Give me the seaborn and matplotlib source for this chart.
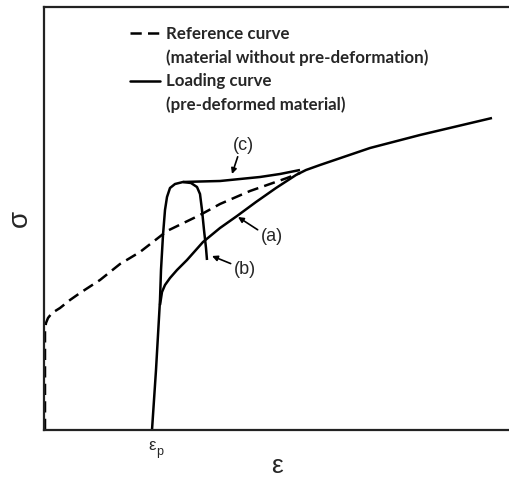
import numpy as np
import pandas as pd
import matplotlib
matplotlib.use("Agg")
import matplotlib.pyplot as plt
import seaborn as sns
from matplotlib.lines import Line2D

# Reference curve (material without pre-deformation)
ref_eps = [1, 1, 2, 4, 8, 16, 26, 36, 56, 76, 96, 114, 123, 156, 176, 206, 226, 243, 256]
ref_sig = [0, 100, 107, 112, 117, 122, 130, 137, 150, 166, 178, 192, 199, 215, 226, 239, 246, 252, 257]

# Loading curve: elastic stem and path (b) with rounded peak
b_eps = [108, 110, 112, 114, 116, 117, 119, 121, 123, 126, 131, 139, 147, 153, 156, 158, 160, 162, 163]
b_sig = [0, 30, 60, 95, 130, 160, 195, 220, 233, 242, 246, 248, 247, 243, 236, 220, 200, 182, 170]

# Path (c): from the peak joining the main curve
c_eps = [139, 156, 176, 196, 216, 236, 256]
c_sig = [248, 248.5, 249, 251, 253, 256, 260]

# Path (a): continuing from the stem up to the end of the curve
a_eps = [116, 118, 121, 126, 133, 143, 159, 176, 193, 212, 232, 252, 262, 276, 326, 376, 448]
a_sig = [125, 138, 145, 152, 160, 170, 188, 202, 214, 228, 242, 255, 260, 265, 282, 295, 312]

eps_p = 108

legend_labels = ["Reference curve", "(material without pre-deformation)",
                 "Loading curve", "(pre-deformed material)"]

sns.set_theme(style="white")
plt.rcParams['font.family'] = ['Liberation Sans', 'DejaVu Sans']

fig = plt.figure(figsize=(5.09, 4.78), dpi=100)
ax = fig.add_axes([44 / 509, 1 - 430 / 478, 465 / 509, 423 / 478])

lw = 1.8
sns.lineplot(x=ref_eps, y=ref_sig, sort=False, estimator=None, ax=ax,
             color="black", lw=lw, linestyle=(0, (4.5, 2.5)))
for xs, ys in [(b_eps, b_sig), (c_eps, c_sig), (a_eps, a_sig)]:
    sns.lineplot(x=xs, y=ys, sort=False, estimator=None, ax=ax,
                 color="black", lw=lw, solid_capstyle="butt")

ax.set_xlim(0, 465)
ax.set_ylim(0, 423)
ax.set_xticks([])
ax.set_yticks([])
for side in ["left", "bottom", "top"]:
    ax.spines[side].set_visible(True)
    ax.spines[side].set_color("#222222")
    ax.spines[side].set_linewidth(1.6)
ax.spines["right"].set_visible(False)

ax.set_xlabel("ε", fontsize=19, labelpad=17)
ax.set_ylabel("σ", fontsize=20, labelpad=8)
ax.text(eps_p, -8, "ε", fontsize=12, ha="center", va="top")
ax.text(eps_p + 8, -16, "p", fontsize=9, ha="center", va="top")

arrow = dict(arrowstyle="-|>", lw=1.2, color="black", mutation_scale=8,
             shrinkA=0, shrinkB=0)
ax.annotate("(c)", xy=(188, 256), xytext=(199, 285), fontsize=13,
            ha="center", va="center", arrowprops=dict(arrow, relpos=(0.3, 0.0)))
ax.annotate("(a)", xy=(194, 213), xytext=(228, 193), fontsize=13,
            ha="center", va="center", arrowprops=dict(arrow, relpos=(0.0, 0.8)))
ax.annotate("(b)", xy=(168, 174), xytext=(201, 160), fontsize=13,
            ha="center", va="center", arrowprops=dict(arrow, relpos=(0.0, 0.8)))

handles = [Line2D([], [], color="black", lw=lw, linestyle=(0, (4.5, 2.5))),
           Line2D([], [], color="none"),
           Line2D([], [], color="black", lw=lw),
           Line2D([], [], color="none")]
leg = ax.legend(handles, legend_labels, loc="upper left",
                bbox_to_anchor=((130 - 44) / 465, (430 - 26) / 423),
                frameon=False, borderpad=0, borderaxespad=0,
                handlelength=1.75, handletextpad=0.4, labelspacing=0.44,
                prop={"family": "Lato", "weight": "bold", "size": 12.2})

fig.savefig("out.png", dpi=100)
